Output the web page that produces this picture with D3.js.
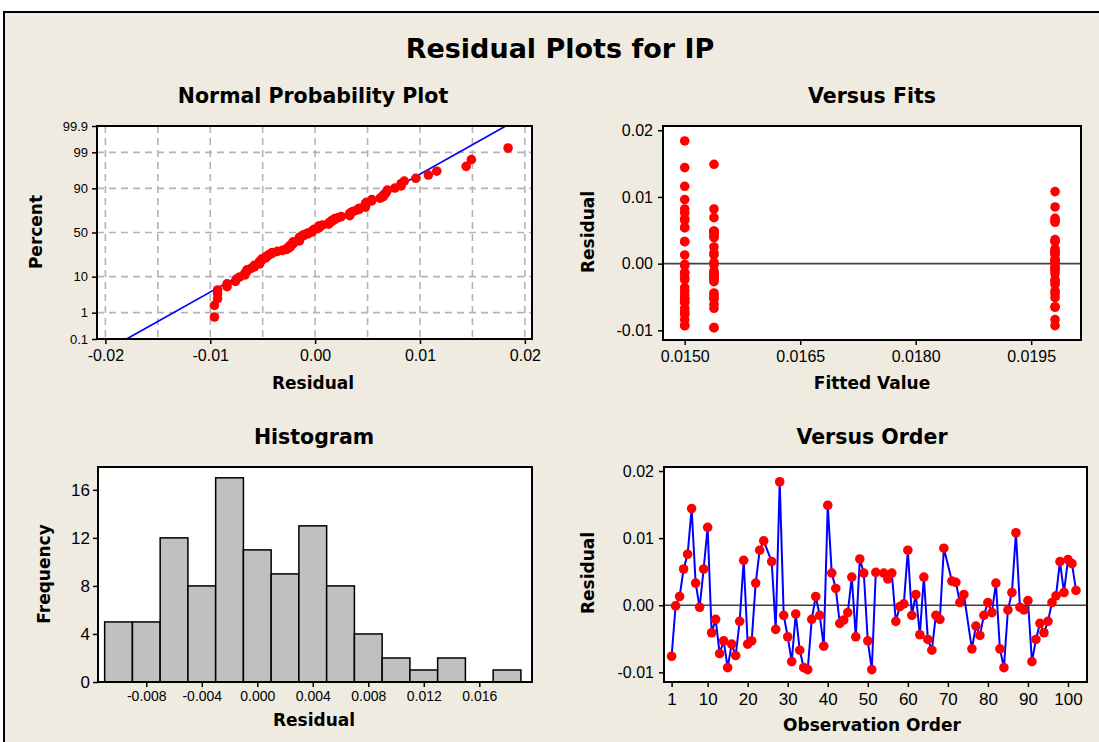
<!DOCTYPE html>
<html><head><meta charset="utf-8">
<script src="https://cdn.jsdelivr.net/npm/d3@7"></script>
<style>
html,body{margin:0;padding:0;background:#fff;}
svg{display:block;}
</style></head><body>
<svg id="c" width="1099" height="742"></svg>
<script>
// ---------------- DATA ----------------
const obsNumbers = [1,2,3,4,5,6,7,8,9,10,11,12,13,14,15,16,17,18,19,20,21,22,23,24,
  26,27,28,29,30,31,32,33,34,35,36,37,38,39,40,41,42,43,44,45,46,47,48,49,50,51,52,
  54,55,56,57,58,59,60,61,62,63,64,65,66,67,68,69,
  71,72,73,74,
  76,77,78,79,80,81,82,83,84,85,86,87,88,89,90,91,92,93,94,95,96,97,98,99,100,101,102];
const residuals = [-0.0076,-0.0001,0.0013,0.0054,0.0076,0.0144,0.0033,-0.0003,0.0054,0.0116,-0.0041,-0.0021,-0.0072,-0.0053,-0.0093,-0.0058,-0.0075,-0.0024,0.0067,-0.0058,-0.0053,0.0033,0.0082,0.0096,
  0.0065,-0.0036,0.0184,-0.0015,-0.0047,-0.0084,-0.0013,-0.0067,-0.0093,-0.0096,-0.0021,0.0013,-0.0015,-0.0061,0.0149,0.0048,0.0025,-0.0027,-0.0022,-0.0011,0.0042,-0.0047,0.0069,0.0048,-0.0053,-0.0096,0.0049,
  0.0048,0.0039,0.0048,-0.0024,-0.0002,0.0002,0.0082,-0.0015,0.0016,-0.0044,0.0042,-0.0051,-0.0067,-0.0015,-0.0021,0.0085,
  0.0036,0.0034,0.0004,0.0016,
  -0.0065,-0.0031,-0.0045,-0.0015,0.0004,-0.0011,0.0033,-0.0065,-0.0093,-0.0007,0.0019,0.0108,-0.0003,-0.0007,0.0007,-0.0084,-0.0051,-0.0027,-0.0041,-0.0024,0.0004,0.0014,0.0065,0.0019,0.0068,0.0062,0.0022];
const fitLevels = [0.01500, 0.01538, 0.01981];
const fitLevelLastObs = [34, 68, 102];
const histBinMids = [-0.010,-0.008,-0.006,-0.004,-0.002,0.000,0.002,0.004,0.006,0.008,0.010,0.012,0.014,0.016,0.018];
const histCounts = [5,5,12,8,17,11,9,13,8,4,2,1,2,0,1];
const histBinWidth = 0.002;
const nppXTicks = [-0.02,-0.01,0.00,0.01,0.02];
const nppXGrid = [-0.02,-0.015,-0.01,-0.005,0,0.005,0.01,0.015,0.02];
const nppYTicks = [0.1,1,10,50,90,99,99.9];
const nppYGrid = [1,10,50,90,99];
const resTicks = [-0.01,0.00,0.01,0.02];
const fitTicks = [0.0150,0.0165,0.0180,0.0195];
const histXTicks = [-0.008,-0.004,0.000,0.004,0.008,0.012,0.016];
const histYTicks = [0,4,8,12,16];
const orderTicks = [1,10,20,30,40,50,60,70,80,90,100];

// ---------------- HELPERS ----------------
function probit(p){
  const a=[-3.969683028665376e+01,2.209460984245205e+02,-2.759285104469687e+02,1.383577518672690e+02,-3.066479806614716e+01,2.506628277459239e+00];
  const b=[-5.447609879822406e+01,1.615858368580409e+02,-1.556989798598866e+02,6.680131188771972e+01,-1.328068155288572e+01];
  const c=[-7.784894002430293e-03,-3.223964580411365e-01,-2.400758277161838e+00,-2.549732539343734e+00,4.374664141464968e+00,2.938163982698783e+00];
  const d=[7.784695709041462e-03,3.224671290700398e-01,2.445134137142996e+00,3.754408661907416e+00];
  const pl=0.02425, ph=1-pl; let q,r;
  if(p<pl){q=Math.sqrt(-2*Math.log(p));return (((((c[0]*q+c[1])*q+c[2])*q+c[3])*q+c[4])*q+c[5])/((((d[0]*q+d[1])*q+d[2])*q+d[3])*q+1);}
  if(p<=ph){q=p-0.5;r=q*q;return (((((a[0]*r+a[1])*r+a[2])*r+a[3])*r+a[4])*r+a[5])*q/(((((b[0]*r+b[1])*r+b[2])*r+b[3])*r+b[4])*r+1);}
  q=Math.sqrt(-2*Math.log(1-p));return -(((((c[0]*q+c[1])*q+c[2])*q+c[3])*q+c[4])*q+c[5])/((((d[0]*q+d[1])*q+d[2])*q+d[3])*q+1);
}
const fmt = n => v => (Math.abs(v) < 1e-12 ? 0 : v).toFixed(n);

const svg = d3.select("#c");
const BG = "#efebe1";
const TICKFONT = "'Liberation Sans', Arial, sans-serif";
const BOLDFONT = "'DejaVu Sans', Verdana, sans-serif";

// outer background + frame
svg.append("rect").attr("x",4).attr("y",12).attr("width",1200).attr("height",800)
  .attr("fill",BG).attr("stroke","#000").attr("stroke-width",2);

svg.append("text").attr("x",560).attr("y",58).attr("text-anchor","middle")
  .style("font-family",BOLDFONT).style("font-weight","bold").style("font-size","27px")
  .text("Residual Plots for IP");

function panel(L,R,T,B){
  const g = svg.append("g");
  g.append("rect").attr("x",L).attr("y",T).attr("width",R-L).attr("height",B-T).attr("fill","#fff");
  return g;
}
function frame(g,L,R,T,B){
  g.append("rect").attr("x",L).attr("y",T).attr("width",R-L).attr("height",B-T)
    .attr("fill","none").attr("stroke","#000").attr("stroke-width",2);
}
function styleAxis(ax, fs){
  ax.select(".domain").remove();
  ax.selectAll(".tick line").attr("stroke","#000").attr("stroke-width",1.5);
  ax.selectAll(".tick text").style("font-family",TICKFONT).style("font-size",fs+"px").attr("fill","#000");
}
function title(x,y,t){
  svg.append("text").attr("x",x).attr("y",y).attr("text-anchor","middle")
    .style("font-family",BOLDFONT).style("font-weight","bold").style("font-size","20.5px").text(t);
}
function xlabel(x,y,t){
  svg.append("text").attr("x",x).attr("y",y).attr("text-anchor","middle")
    .style("font-family",BOLDFONT).style("font-weight","bold").style("font-size","17px").text(t);
}
function ylabel(x,y,t){
  svg.append("text").attr("transform",`translate(${x},${y}) rotate(-90)`).attr("text-anchor","middle")
    .style("font-family",BOLDFONT).style("font-weight","bold").style("font-size","17px").text(t);
}

// ---------------- NORMAL PROBABILITY PLOT ----------------
{
  const L=97,R=532,T=126,B=339;
  const x = d3.scaleLinear().domain([-0.0208,0.02068]).range([L,R]);
  const zmax = probit(0.999);
  const y = d3.scaleLinear().domain([-zmax,zmax]).range([B,T]);
  const g = panel(L,R,T,B);
  const gridStyle = s => s.attr("stroke","#b4b4b4").attr("stroke-width",1.6).attr("stroke-dasharray","7,5");
  g.selectAll(".vg").data(nppXGrid).join("line").attr("x1",d=>x(d)).attr("x2",d=>x(d)).attr("y1",T).attr("y2",B).call(gridStyle);
  g.selectAll(".hg").data(nppYGrid).join("line").attr("x1",L).attr("x2",R).attr("y1",d=>y(probit(d/100))).attr("y2",d=>y(probit(d/100))).call(gridStyle);
  // fitted normal line
  const n = residuals.length;
  const mu = d3.mean(residuals), sd = d3.deviation(residuals);
  const linePts = [-zmax, zmax].map(z => [x(mu+z*sd), y(z)]);
  g.append("path").attr("d", d3.line()(linePts)).attr("stroke","#0000ff").attr("stroke-width",1.6).attr("fill","none");
  const sorted = residuals.slice().sort(d3.ascending);
  g.selectAll(".pt").data(sorted).join("circle")
    .attr("cx",d=>x(d)).attr("cy",(d,i)=>y(probit((i+1-0.3)/(n+0.4)))).attr("r",4.8).attr("fill","#ff0000");
  frame(g,L,R,T,B);
  const ax = svg.append("g").attr("transform",`translate(0,${B})`)
    .call(d3.axisBottom(x).tickValues(nppXTicks).tickFormat(fmt(2)).tickSize(5).tickPadding(6));
  styleAxis(ax,16);
  const ay = svg.append("g").attr("transform",`translate(${L},0)`)
    .call(d3.axisLeft(d3.scaleLinear().domain(y.domain()).range(y.range()))
      .tickValues(nppYTicks.map(p=>probit(p/100))).tickFormat((d,i)=>String(nppYTicks[i])).tickSize(5).tickPadding(4));
  styleAxis(ay,13);
  title(313,103,"Normal Probability Plot");
  xlabel(313,389,"Residual");
  ylabel(42,232,"Percent");
}

// ---------------- VERSUS FITS ----------------
{
  const L=663,R=1081,T=126,B=340;
  const x = d3.scaleLinear().domain([0.014718,0.020147]).range([L,R]);
  const y = d3.scaleLinear().domain([-0.01145,0.02064]).range([B,T]);
  const g = panel(L,R,T,B);
  g.append("line").attr("x1",L).attr("x2",R).attr("y1",y(0)).attr("y2",y(0)).attr("stroke","#404040").attr("stroke-width",1.6);
  const fitted = obsNumbers.map(o => fitLevels[fitLevelLastObs.findIndex(last => o <= last)]);
  g.selectAll(".pt").data(residuals).join("circle")
    .attr("cx",(d,i)=>x(fitted[i])).attr("cy",d=>y(d)).attr("r",4.8).attr("fill","#ff0000");
  frame(g,L,R,T,B);
  const ax = svg.append("g").attr("transform",`translate(0,${B})`)
    .call(d3.axisBottom(x).tickValues(fitTicks).tickFormat(fmt(4)).tickSize(5).tickPadding(6));
  styleAxis(ax,16);
  const ay = svg.append("g").attr("transform",`translate(${L},0)`)
    .call(d3.axisLeft(y).tickValues(resTicks).tickFormat(fmt(2)).tickSize(5).tickPadding(5));
  styleAxis(ay,16);
  title(872,103,"Versus Fits");
  xlabel(872,389,"Fitted Value");
  ylabel(594,232,"Residual");
}

// ---------------- HISTOGRAM ----------------
{
  const L=98,R=532,T=467,B=682;
  const x = d3.scaleLinear().domain([-0.01148,0.0198]).range([L,R]);
  const y = d3.scaleLinear().domain([0,17.9]).range([B,T]);
  const g = panel(L,R,T,B);
  g.selectAll(".bar").data(histCounts).join("rect")
    .attr("x",(d,i)=>x(histBinMids[i]-histBinWidth/2)).attr("width",(d,i)=>x(histBinMids[i]+histBinWidth/2)-x(histBinMids[i]-histBinWidth/2))
    .attr("y",d=>y(d)).attr("height",d=>y(0)-y(d))
    .attr("fill","#c0c0c0").attr("stroke","#000").attr("stroke-width",1.5);
  frame(g,L,R,T,B);
  const ax = svg.append("g").attr("transform",`translate(0,${B})`)
    .call(d3.axisBottom(x).tickValues(histXTicks).tickFormat(fmt(3)).tickSize(5).tickPadding(4));
  styleAxis(ax,14);
  const ay = svg.append("g").attr("transform",`translate(${L},0)`)
    .call(d3.axisLeft(y).tickValues(histYTicks).tickSize(5).tickPadding(3));
  styleAxis(ay,17);
  title(314,444,"Histogram");
  xlabel(314,726,"Residual");
  ylabel(50,574,"Frequency");
}

// ---------------- VERSUS ORDER ----------------
{
  const L=664,R=1087,T=467,B=682;
  const x = d3.scaleLinear().domain([-0.9,104.75]).range([L,R]);
  const y = d3.scaleLinear().domain([-0.01144,0.0206]).range([B,T]);
  const g = panel(L,R,T,B);
  g.append("line").attr("x1",L).attr("x2",R).attr("y1",y(0)).attr("y2",y(0)).attr("stroke","#404040").attr("stroke-width",1.6);
  const pts = obsNumbers.map((o,i)=>[x(o), y(residuals[i])]);
  g.append("path").attr("d",d3.line()(pts)).attr("stroke","#0000ff").attr("stroke-width",2).attr("fill","none");
  g.selectAll(".pt").data(pts).join("circle").attr("cx",d=>d[0]).attr("cy",d=>d[1]).attr("r",4.8).attr("fill","#ff0000");
  frame(g,L,R,T,B);
  const ax = svg.append("g").attr("transform",`translate(0,${B})`)
    .call(d3.axisBottom(x).tickValues(orderTicks).tickSize(5).tickPadding(6));
  styleAxis(ax,17);
  const ay = svg.append("g").attr("transform",`translate(${L},0)`)
    .call(d3.axisLeft(y).tickValues(resTicks).tickFormat(fmt(2)).tickSize(5).tickPadding(5));
  styleAxis(ay,16);
  title(872,444,"Versus Order");
  xlabel(872,731,"Observation Order");
  ylabel(594,573,"Residual");
}
</script>
</body></html>
